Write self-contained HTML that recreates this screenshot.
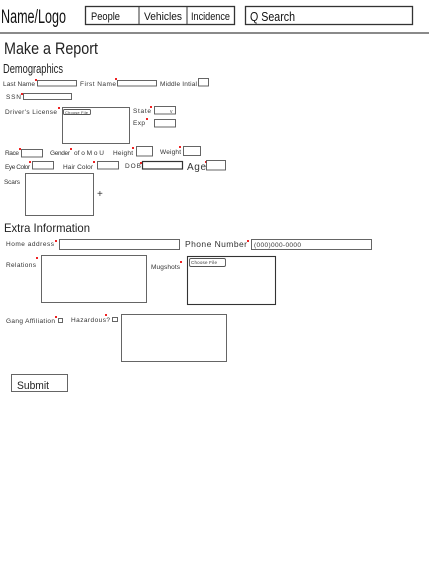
<!DOCTYPE html>
<html><head><meta charset="utf-8"><style>html,body{margin:0;padding:0;background:#fff;}svg{display:block}</style></head>
<body>
<svg width="429" height="572" xmlns="http://www.w3.org/2000/svg" font-family="Liberation Sans, sans-serif">
<rect width="429" height="572" fill="#fff"/>
<!-- header -->
<text x="1" y="23" font-size="19" fill="#111" textLength="65" lengthAdjust="spacingAndGlyphs">Name/Logo</text>
<rect x="85.5" y="6.5" width="149" height="18" fill="none" stroke="#333" stroke-width="1.3"/>
<line x1="139" y1="6.5" x2="139" y2="24.5" stroke="#333"/>
<line x1="187" y1="6.5" x2="187" y2="24.5" stroke="#333"/>
<text x="91" y="20" font-size="11" fill="#111" textLength="29" lengthAdjust="spacingAndGlyphs">People</text>
<text x="144" y="20" font-size="11" fill="#111" textLength="38" lengthAdjust="spacingAndGlyphs">Vehicles</text>
<text x="191" y="20" font-size="11" fill="#111" textLength="39" lengthAdjust="spacingAndGlyphs">Incidence</text>
<rect x="245.5" y="6.5" width="167" height="18" fill="none" stroke="#333" stroke-width="1.3"/>
<text x="250" y="21" font-size="13" fill="#111" textLength="45" lengthAdjust="spacingAndGlyphs">Q Search</text>
<line x1="0" y1="33" x2="429" y2="33" stroke="#444" stroke-width="1.3"/>
<text x="4" y="54" font-size="17" fill="#222" textLength="94" lengthAdjust="spacingAndGlyphs">Make a Report</text>
<text x="3" y="73" font-size="13" fill="#222" textLength="60" lengthAdjust="spacingAndGlyphs">Demographics</text>
<g font-size="6.5" fill="#333" lengthAdjust="spacingAndGlyphs">
<text x="3" y="86" textLength="32">Last Name</text>
<text x="80" y="86" textLength="36">First Name</text>
<text x="160" y="86" textLength="37">Middle Intial</text>
<text x="6" y="99" textLength="15">SSN</text>
<text x="5" y="114" textLength="52">Driver's License</text>
<text x="133" y="113" textLength="18">State</text>
<text x="133" y="125" textLength="12">Exp</text>
<text x="5" y="155" textLength="14">Race</text>
<text x="50" y="155" textLength="20">Gender</text>
<text x="74" y="155" textLength="30">of o M o U</text>
<text x="113" y="155" textLength="20">Height</text>
<text x="160" y="154" textLength="21">Weight</text>
<text x="5" y="169" textLength="25">Eye Color</text>
<text x="63" y="169" textLength="30">Hair Color</text>
<text x="125" y="168" textLength="16">DOB</text>
<text x="187" y="170" font-size="10" textLength="19">Age</text>
<text x="4" y="184" textLength="16">Scars</text>
<text x="6" y="246" textLength="48">Home address</text>
<text x="185" y="247" font-size="8.5" textLength="62">Phone Number</text>
<text x="254" y="247" textLength="47">(000)000-0000</text>
<text x="6" y="267" textLength="30">Relations</text>
<text x="151" y="269" textLength="29">Mugshots</text>
<text x="6" y="323" textLength="49">Gang Affiliation</text>
<text x="71" y="322" textLength="39">Hazardous?</text>
<text x="65" y="114" font-size="4" textLength="23">Choose File</text>
<text x="191" y="264" font-size="4.5" textLength="26">Choose File</text>
</g>
<text x="4" y="232" font-size="12" fill="#222" textLength="86" lengthAdjust="spacingAndGlyphs">Extra Information</text>
<text x="97" y="197" font-size="10" fill="#333">+</text>
<text x="17" y="389" font-size="11" fill="#222" textLength="32" lengthAdjust="spacingAndGlyphs">Submit</text>
<!-- red stars -->
<g fill="#e22">
<rect x="35" y="79" width="2" height="2"/><rect x="115" y="78" width="2" height="2"/>
<rect x="21" y="93" width="2" height="2"/><rect x="58" y="107" width="2" height="2"/>
<rect x="150" y="106" width="2" height="2"/><rect x="146" y="118" width="2" height="2"/>
<rect x="19" y="148" width="2" height="2"/><rect x="70" y="148" width="2" height="2"/>
<rect x="132" y="147" width="2" height="2"/><rect x="179" y="146" width="2" height="2"/>
<rect x="29" y="161" width="2" height="2"/><rect x="93" y="161" width="2" height="2"/>
<rect x="140" y="162" width="2" height="2"/><rect x="205" y="161" width="2" height="2"/>
<rect x="55" y="240" width="2" height="2"/><rect x="247" y="240" width="2" height="2"/>
<rect x="36" y="257" width="2" height="2"/><rect x="180" y="261" width="2" height="2"/>
<rect x="55" y="316" width="2" height="2"/><rect x="105" y="314" width="2" height="2"/>
</g>
<!-- inputs -->
<g fill="none" stroke="#555" stroke-width="0.9">
<rect x="37.5" y="80.5" width="39" height="5.5"/>
<rect x="117.5" y="80.5" width="39" height="5.5"/>
<rect x="198.5" y="78.5" width="10" height="7.5"/>
<rect x="23.5" y="93.5" width="48" height="6"/>
<rect x="62.5" y="107.5" width="67" height="36"/>
<rect x="63.5" y="109.5" width="27" height="5" rx="1"/>
<rect x="154.5" y="106.5" width="21" height="7.5"/>
<rect x="154.5" y="119.5" width="21" height="7.5"/>
<rect x="21.5" y="149.5" width="21" height="7.5"/>
<rect x="136.5" y="146.5" width="16" height="9.5"/>
<rect x="183.5" y="146.5" width="17" height="9"/>
<rect x="32.5" y="161.5" width="21" height="7.5"/>
<rect x="97.5" y="161.5" width="21" height="7.5"/>
<rect x="142.5" y="161.5" width="40" height="7.5" stroke="#333" stroke-width="1.2"/>
<rect x="206.5" y="160.5" width="19" height="9.5"/>
<rect x="25.5" y="173.5" width="68" height="42"/>
<rect x="59.5" y="239.5" width="120" height="10"/>
<rect x="251.5" y="239.5" width="120" height="10"/>
<rect x="41.5" y="255.5" width="105" height="47"/>
<rect x="187.5" y="256.5" width="88" height="48" stroke="#333" stroke-width="1.1"/>
<rect x="189.5" y="258.5" width="36" height="8" rx="1.5"/>
<rect x="58.5" y="318.5" width="4" height="4"/>
<rect x="112.5" y="317.5" width="5" height="4"/>
<rect x="121.5" y="314.5" width="105" height="47"/>
<rect x="11.5" y="374.5" width="56" height="17"/>
</g>
<text x="170" y="113" font-size="5" fill="#555">v</text>
</svg>
</body></html>
